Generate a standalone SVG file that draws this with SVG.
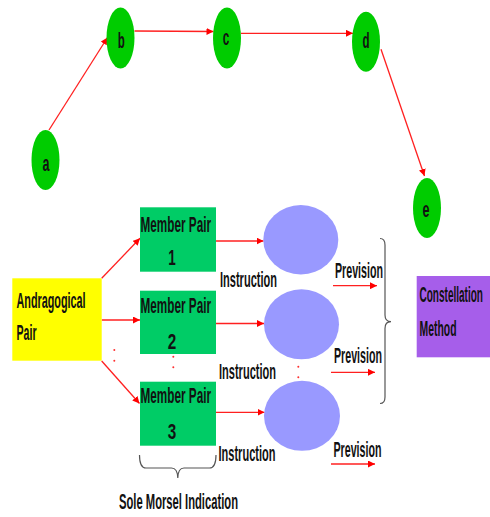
<svg xmlns="http://www.w3.org/2000/svg" width="490" height="517" viewBox="0 0 490 517">
  <style>
    .lbl { font-family: "Liberation Sans", Arial, sans-serif; font-weight: bold; font-size: 22px; fill: #111; }
    .node { fill: #00CC00; }
    .pair { fill: #00CC66; }
    .circ { fill: #9999FF; }
    .edge { stroke: #FF2020; stroke-width: 1.3; fill: none; marker-end: url(#head); }
    .brace { stroke: #555; stroke-width: 1.2; fill: none; }
    .dot { fill: #FF3030; }
  </style>
  <defs>
    <marker id="head" viewBox="0 0 10 10" refX="10" refY="5" markerWidth="7" markerHeight="7" markerUnits="userSpaceOnUse" orient="auto">
      <path d="M0,0 L10,5 L0,10 Z" fill="#FF0000"/>
    </marker>
  </defs>

  <rect width="490" height="517" fill="#FFFFFF"/>

  <!-- connectors -->
  <g id="connectors">
    <line class="edge" x1="49" y1="130" x2="107.5" y2="37.5"/>
    <line class="edge" x1="134.5" y1="31" x2="213.5" y2="31.5"/>
    <line class="edge" x1="241" y1="33.3" x2="353" y2="33.3"/>
    <line class="edge" x1="381" y1="49.3" x2="424.5" y2="176"/>

    <line class="edge" x1="101.7" y1="278.3" x2="140" y2="238.3"/>
    <line class="edge" x1="101.7" y1="320" x2="140" y2="320"/>
    <line class="edge" x1="101.7" y1="361" x2="139.5" y2="403.5"/>

    <line class="edge" x1="216" y1="241" x2="263.5" y2="241"/>
    <line class="edge" x1="216" y1="323.5" x2="264" y2="323.5"/>
    <line class="edge" x1="216" y1="412.3" x2="264.5" y2="412.3"/>

    <line class="edge" x1="333" y1="285.7" x2="377" y2="285.7"/>
    <line class="edge" x1="331" y1="372.3" x2="375" y2="372.3"/>
    <line class="edge" x1="331" y1="464" x2="375" y2="464"/>
  </g>

  <!-- graph nodes -->
  <g id="node-a"><ellipse class="node" cx="45.5" cy="160" rx="14" ry="30"/><text class="lbl" x="42.5" y="170.5" textLength="7" lengthAdjust="spacingAndGlyphs">a</text></g>
  <g id="node-b"><ellipse class="node" cx="120.5" cy="38" rx="14" ry="30.5"/><text class="lbl" x="117.7" y="48.3" textLength="7" lengthAdjust="spacingAndGlyphs">b</text></g>
  <g id="node-c"><ellipse class="node" cx="227" cy="38" rx="14" ry="30.5"/><text class="lbl" x="222.8" y="44.5" textLength="6.5" lengthAdjust="spacingAndGlyphs">c</text></g>
  <g id="node-d"><ellipse class="node" cx="366" cy="41.7" rx="14" ry="30"/><text class="lbl" x="362.5" y="48" textLength="7" lengthAdjust="spacingAndGlyphs">d</text></g>
  <g id="node-e"><ellipse class="node" cx="427" cy="208" rx="14" ry="30"/><text class="lbl" x="422.5" y="216.7" textLength="7" lengthAdjust="spacingAndGlyphs">e</text></g>

  <!-- andragogical pair -->
  <g id="andragogical-pair">
    <rect x="12.3" y="278.3" width="89.4" height="82.4" fill="#FFFF00"/>
    <text class="lbl" x="16.5" y="308.3" textLength="69" lengthAdjust="spacingAndGlyphs">Andragogical</text>
    <text class="lbl" x="16.5" y="340" textLength="20" lengthAdjust="spacingAndGlyphs">Pair</text>
  </g>

  <!-- member pairs -->
  <g id="member-pair-1">
    <rect class="pair" x="140" y="207.3" width="76" height="64.4"/>
    <text class="lbl" x="140.5" y="231.7" textLength="70.5" lengthAdjust="spacingAndGlyphs">Member Pair</text>
    <text class="lbl" x="168.3" y="265" textLength="7.5" lengthAdjust="spacingAndGlyphs">1</text>
  </g>
  <g id="member-pair-2">
    <rect class="pair" x="140" y="290.7" width="76" height="63.3"/>
    <text class="lbl" x="140.5" y="313.3" textLength="70.5" lengthAdjust="spacingAndGlyphs">Member Pair</text>
    <text class="lbl" x="167.7" y="349" textLength="8.5" lengthAdjust="spacingAndGlyphs">2</text>
  </g>
  <g id="member-pair-3">
    <rect class="pair" x="140" y="381.7" width="76" height="64"/>
    <text class="lbl" x="140.5" y="403.3" textLength="70.5" lengthAdjust="spacingAndGlyphs">Member Pair</text>
    <text class="lbl" x="167.7" y="439" textLength="8.5" lengthAdjust="spacingAndGlyphs">3</text>
  </g>

  <!-- continuation dots -->
  <g id="dots">
    <circle class="dot" cx="114.3" cy="350" r="1"/>
    <circle class="dot" cx="114.3" cy="360.7" r="1"/>
    <circle class="dot" cx="173.3" cy="356.7" r="1"/>
    <circle class="dot" cx="173.3" cy="367.3" r="1"/>
    <circle class="dot" cx="298.3" cy="366.7" r="1"/>
    <circle class="dot" cx="298.3" cy="377.3" r="1"/>
  </g>

  <!-- instruction circles -->
  <g id="circle-1"><ellipse class="circ" cx="300.8" cy="239.7" rx="37.5" ry="34.7"/></g>
  <g id="circle-2"><ellipse class="circ" cx="301.5" cy="324.3" rx="37.5" ry="35"/></g>
  <g id="circle-3"><ellipse class="circ" cx="302" cy="415.8" rx="38" ry="35"/></g>

  <!-- labels -->
  <g id="labels">
    <text class="lbl" x="220" y="287" textLength="57" lengthAdjust="spacingAndGlyphs">Instruction</text>
    <text class="lbl" x="219" y="379" textLength="57" lengthAdjust="spacingAndGlyphs">Instruction</text>
    <text class="lbl" x="218.5" y="461" textLength="57" lengthAdjust="spacingAndGlyphs">Instruction</text>
    <text class="lbl" x="335" y="278" textLength="48" lengthAdjust="spacingAndGlyphs">Prevision</text>
    <text class="lbl" x="334" y="363" textLength="48" lengthAdjust="spacingAndGlyphs">Prevision</text>
    <text class="lbl" x="333.5" y="457" textLength="48" lengthAdjust="spacingAndGlyphs">Prevision</text>
    <text class="lbl" x="119" y="509" textLength="119" lengthAdjust="spacingAndGlyphs">Sole Morsel Indication</text>
  </g>

  <!-- braces -->
  <g id="brace-bottom">
    <path class="brace" d="M139.5,455 Q139.5,468 146,468 L171.5,468 Q177.5,468 177.8,478 Q178,468 184,468 L209.5,468 Q216,468 216,455"/>
  </g>
  <g id="brace-right">
    <path class="brace" d="M380,238.5 Q385,238.5 385,245 L385,315 Q385,321.7 391,321.7 Q385,321.7 385,328.5 L385,397 Q385,403.5 380,403.5"/>
  </g>

  <!-- constellation method -->
  <g id="constellation-method">
    <rect x="416.7" y="276" width="73.3" height="81.3" fill="#A65EEA"/>
    <text class="lbl" x="419.5" y="302" textLength="63.5" lengthAdjust="spacingAndGlyphs">Constellation</text>
    <text class="lbl" x="419.5" y="336" textLength="37" lengthAdjust="spacingAndGlyphs">Method</text>
  </g>
</svg>
